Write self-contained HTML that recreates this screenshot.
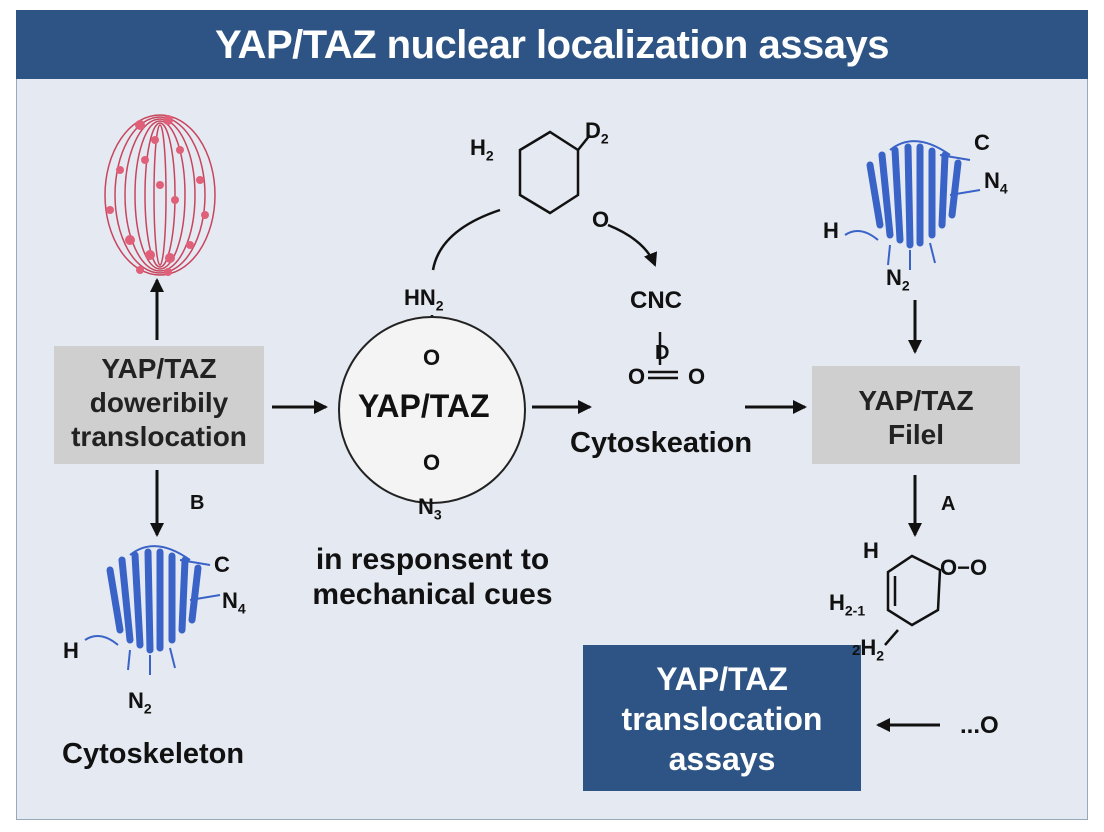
<!DOCTYPE html>
<html><head><meta charset="utf-8"><style>
html,body{margin:0;padding:0;background:#fff;}
body{width:1104px;height:832px;position:relative;overflow:hidden;font-family:"Liberation Sans",sans-serif;}
.t{position:absolute;font-weight:bold;color:#111;white-space:nowrap;}
</style></head><body>
<div style="position:absolute;left:16px;top:10px;width:1070px;height:808px;background:#e5e9f1;border:1px solid #9aa8bb;"></div>
<div style="position:absolute;left:16px;top:10px;width:1072px;height:69px;background:#2d5484;color:#fff;font-weight:bold;font-size:40px;text-align:center;line-height:70px;letter-spacing:-0.5px;">YAP/TAZ nuclear localization assays</div>

<svg width="1104" height="832" style="position:absolute;left:0;top:0">
<defs>
<marker id="b" markerWidth="14" markerHeight="14" refX="12" refY="7" orient="auto" markerUnits="userSpaceOnUse"><path d="M0,0 L14,7 L0,14z" fill="#111"/></marker></defs>
<g stroke="#c8455e" stroke-width="1.5" fill="none">
<ellipse cx="160" cy="195" rx="55" ry="80"/><ellipse cx="160" cy="195" rx="45" ry="78"/><ellipse cx="160" cy="195" rx="35" ry="76"/><ellipse cx="160" cy="195" rx="25" ry="74"/><ellipse cx="160" cy="195" rx="15" ry="72"/><ellipse cx="160" cy="195" rx="6" ry="70"/>
</g>
<g fill="#e0607a">
<circle cx="140" cy="125" r="5"/><circle cx="168" cy="120" r="5"/><circle cx="155" cy="140" r="4"/><circle cx="180" cy="150" r="4"/><circle cx="120" cy="170" r="4"/><circle cx="200" cy="180" r="4"/><circle cx="160" cy="185" r="4"/><circle cx="110" cy="210" r="4"/><circle cx="205" cy="215" r="4"/><circle cx="130" cy="240" r="5"/><circle cx="150" cy="255" r="5"/><circle cx="170" cy="258" r="5"/><circle cx="190" cy="245" r="4"/><circle cx="140" cy="270" r="4"/><circle cx="168" cy="272" r="4"/><circle cx="175" cy="200" r="4"/><circle cx="145" cy="160" r="4"/>
</g>
<g stroke="#111" stroke-width="3">
<line x1="157" y1="340" x2="157" y2="280" marker-end="url(#b)"/>
<line x1="157" y1="470" x2="157" y2="535" marker-end="url(#b)"/>
<line x1="272" y1="407" x2="326" y2="407" marker-end="url(#b)"/>
<line x1="532" y1="407" x2="590" y2="407" marker-end="url(#b)"/>
<line x1="745" y1="407" x2="805" y2="407" marker-end="url(#b)"/>
<line x1="915" y1="300" x2="915" y2="352" marker-end="url(#b)"/>
<line x1="915" y1="475" x2="915" y2="535" marker-end="url(#b)"/>
<line x1="940" y1="725" x2="878" y2="725" marker-end="url(#b)"/>
</g>
<g stroke="#111" stroke-width="2.5" fill="none">
<path d="M520,150 L550,132 L578,150 L578,195 L550,213 L520,195 Z"/>
<line x1="578" y1="150" x2="590" y2="135"/>
<path d="M500,210 Q440,230 433,270"/>
<path d="M608,225 Q645,240 655,265" marker-end="url(#b)"/>
<line x1="660" y1="332" x2="660" y2="365"/>
<line x1="648" y1="372" x2="678" y2="372"/><line x1="648" y1="378" x2="678" y2="378"/>
<line x1="432" y1="315" x2="432" y2="345"/>
<line x1="432" y1="475" x2="432" y2="490"/>
<path d="M888,572 L912,556 L940,570 L938,610 L912,625 L888,610 Z"/>
<line x1="895" y1="576" x2="895" y2="606"/>
<line x1="898" y1="630" x2="885" y2="645"/>
</g>
<circle cx="432" cy="410" r="93" fill="#f4f4f4" stroke="#222" stroke-width="2"/>
<g stroke="#3a63c8" stroke-width="7" fill="none" stroke-linecap="round">
<path d="M110,570 L120,630"/><path d="M122,560 L130,640"/><path d="M135,555 L140,645"/><path d="M148,552 L150,650"/><path d="M160,552 L160,648"/><path d="M172,556 L172,640"/><path d="M185,560 L182,630"/><path d="M198,568 L192,620"/>
</g>
<g stroke="#3a63c8" stroke-width="2" fill="none">
<path d="M130,555 Q155,535 190,560"/><path d="M180,560 L210,565"/><path d="M190,600 L220,595"/><path d="M85,640 Q100,630 118,645"/><path d="M130,650 L128,670"/><path d="M150,655 L150,675"/><path d="M170,648 L175,668"/>
</g>
<g transform="translate(760,-405)">
<g stroke="#3a63c8" stroke-width="7" fill="none" stroke-linecap="round">
<path d="M110,570 L120,630"/><path d="M122,560 L130,640"/><path d="M135,555 L140,645"/><path d="M148,552 L150,650"/><path d="M160,552 L160,648"/><path d="M172,556 L172,640"/><path d="M185,560 L182,630"/><path d="M198,568 L192,620"/>
</g>
<g stroke="#3a63c8" stroke-width="2" fill="none">
<path d="M130,555 Q155,535 190,560"/><path d="M180,560 L210,565"/><path d="M190,600 L220,595"/><path d="M85,640 Q100,630 118,645"/><path d="M130,650 L128,670"/><path d="M150,655 L150,675"/><path d="M170,648 L175,668"/>
</g></g>
</svg>

<div style="position:absolute;left:54px;top:346px;width:210px;height:118px;background:#cfcfcf;"></div>
<div class="t" style="left:54px;top:352px;width:210px;text-align:center;font-size:28px;line-height:34px;color:#222">YAP/TAZ<br>doweribily<br>translocation</div>
<div style="position:absolute;left:812px;top:366px;width:208px;height:98px;background:#cfcfcf;"></div>
<div class="t" style="left:812px;top:384px;width:208px;text-align:center;font-size:28px;line-height:34px;color:#222">YAP/TAZ<br>Filel</div>
<div style="position:absolute;left:583px;top:645px;width:278px;height:146px;background:#2d5484;"></div>
<div class="t" style="left:583px;top:659px;width:278px;text-align:center;font-size:32px;line-height:40px;color:#fff">YAP/TAZ<br>translocation<br>assays</div>

<div class="t" style="left:358px;top:388px;font-size:32px;">YAP/TAZ</div>
<div class="t" style="left:404px;top:285px;font-size:22px;">HN<sub style="font-size:14px">2</sub></div>
<div class="t" style="left:423px;top:345px;font-size:22px;">O</div>
<div class="t" style="left:423px;top:450px;font-size:22px;">O</div>
<div class="t" style="left:418px;top:494px;font-size:22px;">N<sub style="font-size:14px">3</sub></div>
<div class="t" style="left:470px;top:135px;font-size:22px;">H<sub style="font-size:14px">2</sub></div>
<div class="t" style="left:585px;top:118px;font-size:22px;">D<sub style="font-size:14px">2</sub></div>
<div class="t" style="left:592px;top:207px;font-size:22px;">O</div>
<div class="t" style="left:630px;top:287px;font-size:24px;">CNC</div>
<div class="t" style="left:655px;top:342px;font-size:20px;">D</div>
<div class="t" style="left:628px;top:364px;font-size:22px;">O</div>
<div class="t" style="left:688px;top:364px;font-size:22px;">O</div>
<div class="t" style="left:570px;top:427px;font-size:29px;">Cytoskeation</div>
<div class="t" style="left:290px;top:542px;width:285px;text-align:center;font-size:30px;line-height:35px;">in responsent to<br>mechanical cues</div>
<div class="t" style="left:190px;top:492px;font-size:20px;">B</div>
<div class="t" style="left:214px;top:552px;font-size:22px;">C</div>
<div class="t" style="left:222px;top:588px;font-size:22px;">N<sub style="font-size:14px">4</sub></div>
<div class="t" style="left:63px;top:638px;font-size:22px;">H</div>
<div class="t" style="left:128px;top:688px;font-size:22px;">N<sub style="font-size:14px">2</sub></div>
<div class="t" style="left:62px;top:738px;font-size:29px;">Cytoskeleton</div>
<div class="t" style="left:974px;top:130px;font-size:22px;">C</div>
<div class="t" style="left:984px;top:168px;font-size:22px;">N<sub style="font-size:14px">4</sub></div>
<div class="t" style="left:823px;top:218px;font-size:22px;">H</div>
<div class="t" style="left:886px;top:265px;font-size:22px;">N<sub style="font-size:14px">2</sub></div>
<div class="t" style="left:941px;top:493px;font-size:20px;">A</div>
<div class="t" style="left:863px;top:538px;font-size:22px;">H</div>
<div class="t" style="left:940px;top:555px;font-size:22px;">O−O</div>
<div class="t" style="left:829px;top:590px;font-size:22px;">H<sub style="font-size:14px">2-1</sub></div>
<div class="t" style="left:852px;top:635px;font-size:22px;"><span style="font-size:15px">2</span>H<sub style="font-size:14px">2</sub></div>
<div class="t" style="left:960px;top:712px;font-size:24px;">...O</div>
</body></html>
